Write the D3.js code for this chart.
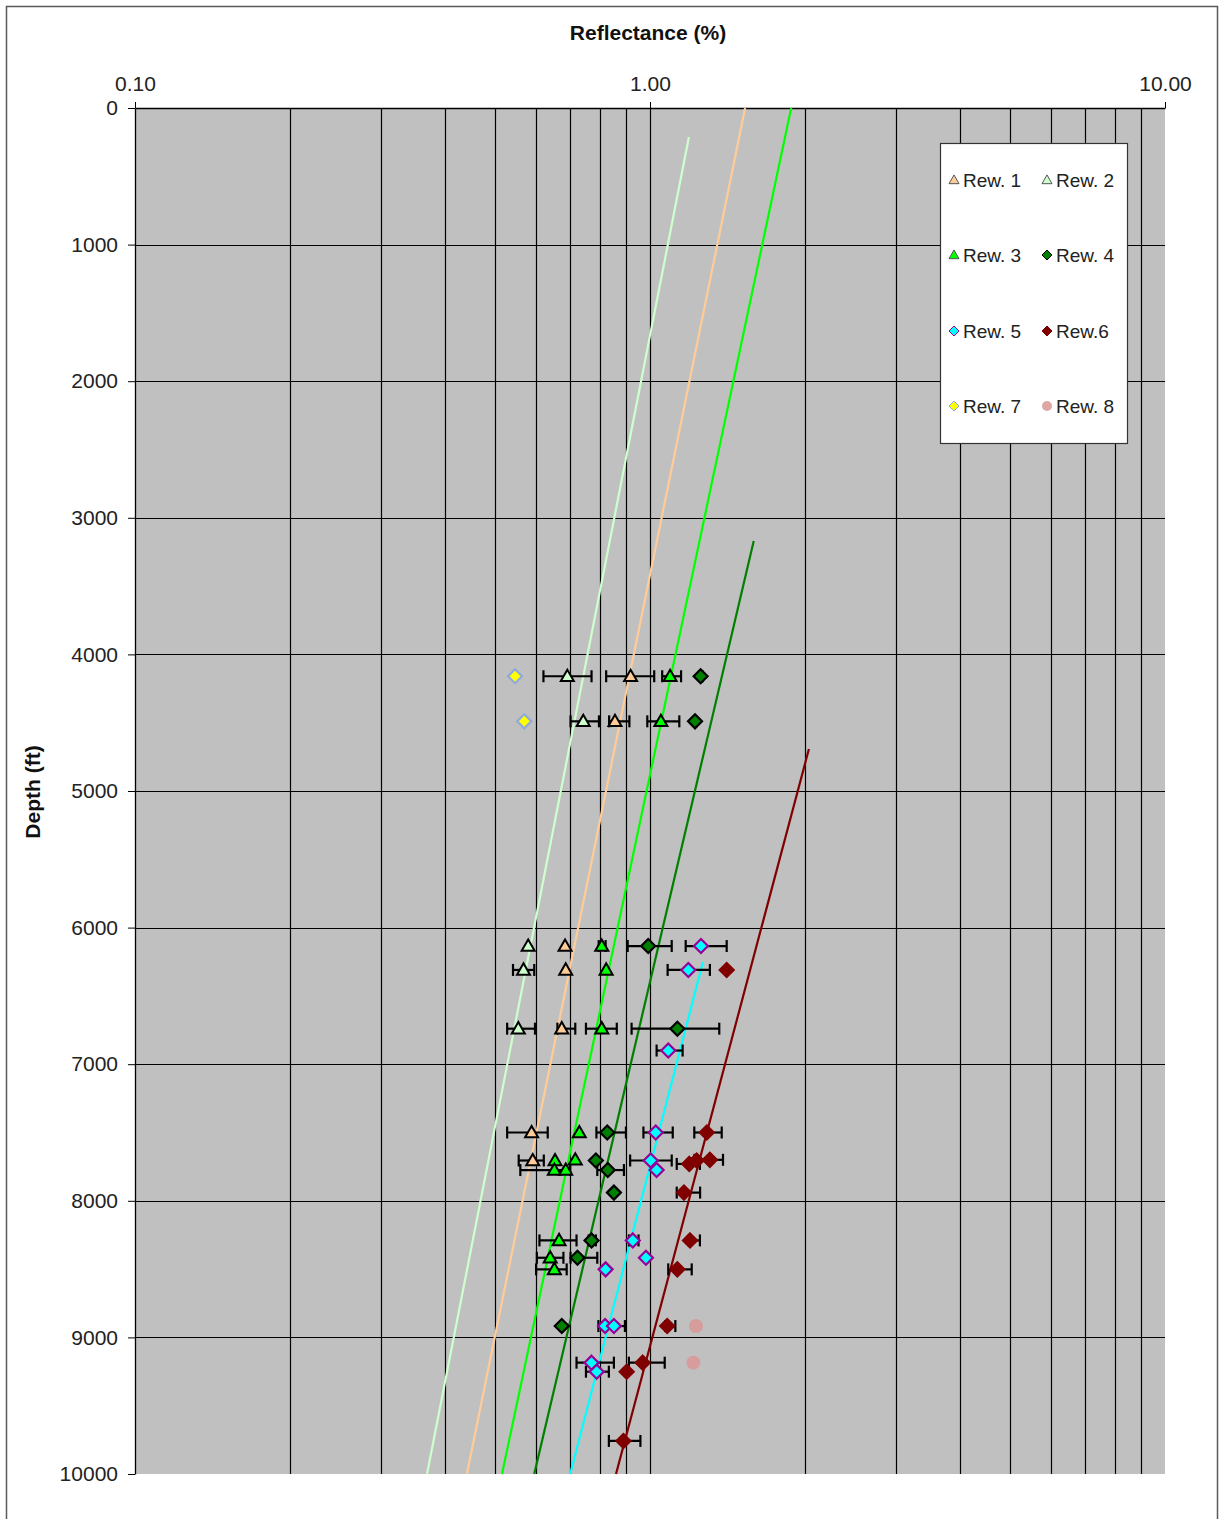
<!DOCTYPE html>
<html>
<head>
<meta charset="utf-8">
<script src="https://cdn.jsdelivr.net/npm/d3@7"></script>
<style>
  html, body { margin: 0; padding: 0; background: #ffffff; }
  svg text { font-family: "Liberation Sans", Arial, sans-serif; }
</style>
</head>
<body>
<svg id="chart" width="1224" height="1519"></svg>
<script>
// Vitrinite reflectance samples per well: [depth ft, Ro %, error low, error high]
const rew1 = [
  [4160, 0.917, 0.822, 1.019], [4490, 0.855, 0.833, 0.912], [6135, 0.684], [6310, 0.686],
  [6740, 0.674, 0.661, 0.716], [7500, 0.589, 0.528, 0.633], [7705, 0.592, 0.556, 0.622]
];
const rew2 = [
  [4160, 0.691, 0.621, 0.770], [4490, 0.742, 0.701, 0.796], [6135, 0.580],
  [6310, 0.568, 0.542, 0.596], [6740, 0.555, 0.528, 0.598]
];
const rew3 = [
  [4160, 1.094, 1.056, 1.149], [4490, 1.050, 0.988, 1.140], [6135, 0.806, 0.795, 0.820],
  [6310, 0.822], [6740, 0.806, 0.751, 0.862], [7500, 0.729], [7705, 0.654], [7700, 0.716],
  [7775, 0.652, 0.560, 0.700], [7775, 0.686], [8290, 0.666, 0.610, 0.720],
  [8417, 0.640, 0.603, 0.679], [8502, 0.652, 0.601, 0.689]
];
const rew4 = [
  [4160, 1.254, 1.245, 1.265], [4490, 1.223], [6135, 0.992, 0.905, 1.102],
  [6740, 1.130, 0.921, 1.363], [7500, 0.826, 0.787, 0.898], [7705, 0.785],
  [7775, 0.828, 0.790, 0.890], [7940, 0.851], [8290, 0.770, 0.760, 0.785],
  [8417, 0.723, 0.701, 0.790], [8917, 0.674]
];
const rew5 = [
  [6135, 1.256, 1.173, 1.409], [6310, 1.187, 1.082, 1.307], [6900, 1.085, 1.030, 1.157],
  [7500, 1.026, 0.971, 1.107], [7705, 1.003, 0.915, 1.102], [7775, 1.030],
  [8290, 0.926, 0.910, 0.950], [8417, 0.982], [8502, 0.820],
  [8917, 0.818, 0.794, 0.894], [8917, 0.851], [9185, 0.770, 0.720, 0.851],
  [9251, 0.788, 0.751, 0.832]
];
const rew6 = [
  [6310, 1.409], [7500, 1.289, 1.219, 1.378], [7730, 1.192, 1.127, 1.250],
  [7705, 1.232], [7700, 1.307, 1.220, 1.386], [7940, 1.164, 1.127, 1.251],
  [8290, 1.196, 1.190, 1.250], [8502, 1.130, 1.085, 1.205], [8917, 1.080, 1.070, 1.120],
  [9185, 0.968, 0.910, 1.068], [9251, 0.901], [9758, 0.888, 0.832, 0.958]
];
const rew7 = [[4160, 0.547], [4490, 0.570]];
const rew8 = [[8917, 1.228], [9185, 1.214]];

// Log-linear maturity trends: [depth ft, Ro %] end points
const trend1 = [[0, 1.53], [10000, 0.441]];
const trend2 = [[212, 1.19], [10000, 0.369]];
const trend3 = [[0, 1.88], [10000, 0.516]];
const trend4 = [[3170, 1.59], [10000, 0.596]];
const trend5 = [[6252, 1.267], [10000, 0.700]];
const trend6 = [[4693, 2.035], [10000, 0.859]];

const xTicks = [0.1, 1, 10];
const depthTicks = [0, 1000, 2000, 3000, 4000, 5000, 6000, 7000, 8000, 9000, 10000];

const series = [
  { name: "Rew. 1", data: rew1, shape: "triangle", fill: "#FFCC99", stroke: "#000000", trend: trend1, line: "#FFCC99" },
  { name: "Rew. 2", data: rew2, shape: "triangle", fill: "#CCFFCC", stroke: "#000000", trend: trend2, line: "#CCFFCC" },
  { name: "Rew. 3", data: rew3, shape: "triangle", fill: "#00FF00", stroke: "#000000", trend: trend3, line: "#00FF00" },
  { name: "Rew. 4", data: rew4, shape: "diamond", fill: "#008000", stroke: "#000000", trend: trend4, line: "#008000" },
  { name: "Rew. 5", data: rew5, shape: "diamond", fill: "#00FFFF", stroke: "#990099", trend: trend5, line: "#00FFFF" },
  { name: "Rew.6", data: rew6, shape: "diamond", fill: "#800000", stroke: "#800000", trend: trend6, line: "#800000" },
  { name: "Rew. 7", data: rew7, shape: "diamond", fill: "#FFFF00", stroke: "#8EA9DB", trend: null },
  { name: "Rew. 8", data: rew8, shape: "circle", fill: "#D99795", stroke: "none", trend: null, opacity: 0.85 }
];

const svg = d3.select("#chart");
const plot = { left: 135, top: 108, right: 1165, bottom: 1474 };

const x = d3.scaleLog().domain([0.1, 10]).range([plot.left, plot.right]);
const y = d3.scaleLinear().domain([0, 10000]).range([plot.top, plot.bottom]);

// Chart frame
svg.append("rect")
  .attr("x", 6.5).attr("y", 6.5).attr("width", 1211).attr("height", 1540)
  .attr("fill", "#ffffff").attr("stroke", "#5a5a5a").attr("stroke-width", 1.5);

// Plot background
svg.append("rect")
  .attr("x", plot.left).attr("y", plot.top)
  .attr("width", plot.right - plot.left).attr("height", plot.bottom - plot.top)
  .attr("fill", "#C0C0C0");

// Grid
const grid = svg.append("g").attr("stroke", "#000000").attr("stroke-width", 1.2);
grid.selectAll("line.v").data(x.ticks().filter(v => v > 0.1 && v < 10))
  .join("line")
  .attr("x1", d => Math.round(x(d)) + 0.5).attr("x2", d => Math.round(x(d)) + 0.5)
  .attr("y1", plot.top).attr("y2", plot.bottom);
grid.selectAll("line.h").data(depthTicks.filter(d => d > 0 && d < 10000))
  .join("line")
  .attr("x1", plot.left).attr("x2", plot.right)
  .attr("y1", d => Math.round(y(d)) + 0.5).attr("y2", d => Math.round(y(d)) + 0.5);

// Axes
const xAxis = svg.append("g")
  .attr("transform", `translate(0,${plot.top})`)
  .call(d3.axisTop(x).tickValues(xTicks).tickFormat(d3.format(".2f")).tickSize(6).tickSizeOuter(0));
xAxis.select(".domain").attr("stroke", "#000").attr("stroke-width", 1.3);
xAxis.selectAll(".tick line").attr("stroke", "#000");
xAxis.selectAll(".tick text")
  .attr("font-size", 21).attr("fill", "#222").attr("y", -17)
  .attr("font-family", "'Liberation Sans', Arial, sans-serif");

const yAxis = svg.append("g")
  .attr("transform", `translate(${plot.left},0)`)
  .call(d3.axisLeft(y).tickValues(depthTicks).tickFormat(d3.format("d")).tickSize(7).tickSizeOuter(0));
yAxis.select(".domain").attr("stroke", "#000").attr("stroke-width", 1.3);
yAxis.selectAll(".tick line").attr("stroke", "#000");
yAxis.selectAll(".tick text")
  .attr("font-size", 21).attr("fill", "#222").attr("x", -17)
  .attr("font-family", "'Liberation Sans', Arial, sans-serif");

// Titles
svg.append("text")
  .attr("x", 648).attr("y", 40).attr("text-anchor", "middle")
  .attr("font-size", 21).attr("font-weight", "bold").attr("fill", "#111")
  .text("Reflectance  (%)");
svg.append("text")
  .attr("transform", "translate(40,792) rotate(-90)").attr("text-anchor", "middle")
  .attr("font-size", 21).attr("font-weight", "bold").attr("fill", "#111")
  .text("Depth (ft)");

// Trend lines
const line = d3.line().x(d => x(d[1])).y(d => y(d[0]));
svg.append("g").selectAll("path")
  .data(series.filter(s => s.trend))
  .join("path")
  .attr("d", s => line(s.trend))
  .attr("fill", "none")
  .attr("stroke", s => s.line)
  .attr("stroke-width", 2.2);

// Marker shapes
function markerPath(shape, r) {
  if (shape === "triangle") {
    const h = r * 1.75;
    return `M0,${-h * 0.58}L${r},${h * 0.42}L${-r},${h * 0.42}Z`;
  }
  if (shape === "diamond") {
    return `M0,${-r}L${r},0L0,${r}L${-r},0Z`;
  }
  return d3.symbol(d3.symbolCircle, Math.PI * r * r)();
}
const markerSize = { triangle: 6.5, diamond: 7, circle: 7 };

// Error bars
const errG = svg.append("g").attr("stroke", "#000").attr("stroke-width", 2.2);
series.forEach(s => {
  s.data.filter(d => d.length === 4).forEach(d => {
    const yy = y(d[0]);
    const x0 = x(d[2]), x1 = x(d[3]);
    errG.append("line").attr("x1", x0).attr("x2", x1).attr("y1", yy).attr("y2", yy);
    errG.append("line").attr("x1", x0).attr("x2", x0).attr("y1", yy - 6).attr("y2", yy + 6);
    errG.append("line").attr("x1", x1).attr("x2", x1).attr("y1", yy - 6).attr("y2", yy + 6);
  });
});

// Markers
series.forEach(s => {
  svg.append("g").selectAll("path")
    .data(s.data)
    .join("path")
    .attr("transform", d => `translate(${x(d[1])},${y(d[0])})`)
    .attr("d", markerPath(s.shape, markerSize[s.shape]))
    .attr("fill", s.fill)
    .attr("fill-opacity", s.opacity || 1)
    .attr("stroke", s.stroke)
    .attr("stroke-width", s.shape === "triangle" ? 2 : 2.2)
    .attr("stroke-linejoin", "miter");
});

// Legend
const legend = svg.append("g");
legend.append("rect")
  .attr("x", 940.5).attr("y", 143.5).attr("width", 187).attr("height", 300)
  .attr("fill", "#ffffff").attr("stroke", "#333").attr("stroke-width", 1.2);
const legendCols = [954, 1047];
const legendRows = [180, 255, 331, 406];
series.forEach((s, i) => {
  const cx = legendCols[i % 2], cy = legendRows[Math.floor(i / 2)];
  legend.append("path")
    .attr("transform", `translate(${cx},${cy})`)
    .attr("d", markerPath(s.shape, 5))
    .attr("fill", s.fill)
    .attr("fill-opacity", s.opacity || 1)
    .attr("stroke", s.shape === "triangle" ? "#555" : s.stroke)
    .attr("stroke-width", 1);
  legend.append("text")
    .attr("x", cx + 9).attr("y", cy + 7)
    .attr("font-size", 19).attr("fill", "#222")
    .text(s.name);
});
</script>
</body>
</html>
